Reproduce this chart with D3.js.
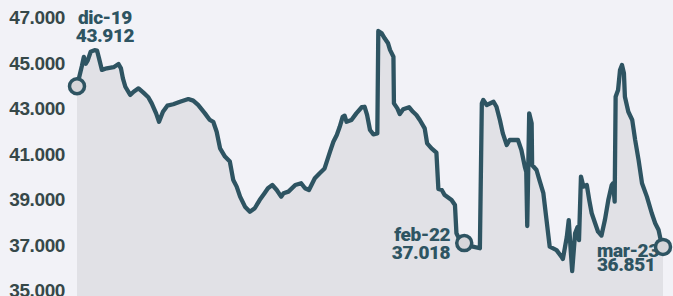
<!DOCTYPE html>
<html>
<head>
<meta charset="utf-8">
<script src="https://cdn.jsdelivr.net/npm/d3@7"></script>
<style>
    body { margin: 0; background: #f2f2f7; }
    svg { display: block; }
</style>
</head>
<body>
<div id="chart"></div>
<script>
// data
const dates = [
    "2019-12-01", "2019-12-11", "2019-12-15", "2019-12-19", "2019-12-23", "2019-12-29", "2020-01-06", "2020-01-11",
    "2020-01-15", "2020-01-21", "2020-01-31", "2020-02-14", "2020-02-24", "2020-02-29", "2020-03-04", "2020-03-09",
    "2020-03-19", "2020-03-26", "2020-04-05", "2020-04-15", "2020-04-25", "2020-05-02", "2020-05-11", "2020-05-17",
    "2020-05-25", "2020-06-03", "2020-06-15", "2020-06-29", "2020-07-16", "2020-07-26", "2020-08-05", "2020-08-19",
    "2020-08-29", "2020-09-05", "2020-09-12", "2020-09-19", "2020-09-29", "2020-10-09", "2020-10-16", "2020-10-23",
    "2020-10-30", "2020-11-09", "2020-11-19", "2020-11-29", "2020-12-09", "2020-12-19", "2020-12-26", "2021-01-04",
    "2021-01-13", "2021-01-22", "2021-01-27", "2021-02-06", "2021-02-20", "2021-03-04", "2021-03-12", "2021-03-20",
    "2021-04-01", "2021-04-11", "2021-04-21", "2021-05-02", "2021-05-09", "2021-05-16", "2021-05-22", "2021-05-28",
    "2021-06-01", "2021-06-05", "2021-06-15", "2021-06-25", "2021-07-06", "2021-07-12", "2021-07-17", "2021-07-23",
    "2021-07-30", "2021-08-07", "2021-08-09", "2021-08-16", "2021-08-22", "2021-08-29", "2021-09-02", "2021-09-09",
    "2021-09-10", "2021-09-17", "2021-09-22", "2021-09-29", "2021-10-11", "2021-10-19", "2021-10-26", "2021-11-02",
    "2021-11-12", "2021-11-17", "2021-11-26", "2021-12-06", "2021-12-10", "2021-12-17", "2021-12-23", "2022-01-06",
    "2022-01-13", "2022-01-16", "2022-01-23", "2022-02-01", "2022-02-19", "2022-03-05", "2022-03-09", "2022-03-12",
    "2022-03-19", "2022-04-02", "2022-04-08", "2022-04-15", "2022-04-21", "2022-04-29", "2022-05-05", "2022-05-22",
    "2022-05-29", "2022-06-05", "2022-06-08", "2022-06-10", "2022-06-14", "2022-06-19", "2022-06-20", "2022-06-29",
    "2022-07-05", "2022-07-13", "2022-07-19", "2022-07-26", "2022-08-09", "2022-08-19", "2022-08-22", "2022-08-30",
    "2022-09-03", "2022-09-07", "2022-09-10", "2022-09-16", "2022-09-21", "2022-09-24", "2022-09-28", "2022-10-03",
    "2022-10-10", "2022-10-15", "2022-10-20", "2022-10-27", "2022-11-02", "2022-11-09", "2022-11-16", "2022-11-23",
    "2022-11-30", "2022-12-03", "2022-12-06", "2022-12-08", "2022-12-13", "2022-12-17", "2022-12-21", "2022-12-25",
    "2022-12-27", "2023-01-03", "2023-01-11", "2023-01-17", "2023-01-24", "2023-01-31", "2023-02-10", "2023-02-20",
    "2023-02-27", "2023-03-06", "2023-03-11", "2023-03-15"
];

const values = [
    43912, 44800, 45200, 44900, 45050, 45430, 45500, 45480,
    45150, 44630, 44700, 44750, 44890, 44700, 44260, 43890,
    43530, 43670, 43820, 43630, 43430, 43160, 42720, 42350,
    42790, 43060, 43120, 43230, 43350, 43280, 43090, 42720,
    42430, 42350, 41910, 41180, 40820, 40600, 39790, 39500,
    39060, 38620, 38400, 38550, 38910, 39210, 39430, 39570,
    39350, 39060, 39210, 39280, 39570, 39650, 39430, 39350,
    39870, 40090, 40300, 41030, 41470, 41770, 42130, 42570,
    42620, 42350, 42430, 42720, 42990, 43010, 42650, 41990,
    41800, 41840, 46340, 46240, 46020, 45800, 45510, 45210,
    43160, 42940, 42690, 42900, 42990, 42790, 42650, 42430,
    42060, 41400, 41180, 40990, 39400, 39350, 39130, 38910,
    38690, 37450, 37150, 37018, 36860, 36790, 43160, 43310,
    43090, 43230, 43010, 42430, 41840, 41330, 41550, 41550,
    41110, 40380, 40140, 37770, 42720, 42280, 40450, 40230,
    39790, 39210, 38120, 36860, 36710, 36420, 36320, 37290,
    38030, 36710, 35790, 37450, 37720, 37150, 39940, 39500,
    39570, 38910, 38330, 37890, 37520, 37350, 38030, 38910,
    39570, 39650, 38840, 43450, 43750, 44630, 44850, 44480,
    43450, 42790, 42430, 41550, 40670, 39650, 39060, 38330,
    37890, 37590, 37080, 36851
];

const yTicks = [35000, 37000, 39000, 41000, 43000, 45000, 47000];

const calloutDates = ["2019-12-01", "2022-02-01", "2023-03-15"];
const calloutLabels = ["dic-19", "feb-22", "mar-23"];

const width = 673;
const height = 296;

const parseDate = d3.timeParse("%Y-%m-%d");
const data = dates.map((d, i) => ({date: parseDate(d), value: values[i]}));

// spanish number format 43.912
const locale = d3.formatLocale({decimal: ",", thousands: ".", grouping: [3], currency: ["", "€"]});
const fmt = locale.format(",d");

const svg = d3.select("#chart")
    .append("svg")
    .attr("width", width)
    .attr("height", height)
    .style("font-family", "Roboto, 'Open Sans', sans-serif");

svg.append("rect")
    .attr("width", width)
    .attr("height", height)
    .attr("fill", "#f2f2f7");

const x = d3.scaleTime()
    .domain(d3.extent(data, d => d.date))
    .range([77, 663]);

const y = d3.scaleLinear()
    .domain([35000, 47000])
    .range([289, 16]);

// area under the line
const area = d3.area()
    .x(d => x(d.date))
    .y0(height)
    .y1(d => y(d.value));

svg.append("path")
    .datum(data)
    .attr("d", area)
    .attr("fill", "#e1e1e6");

// y axis, labels only
const yAxis = svg.append("g")
    .attr("transform", "translate(65,1.5)")
    .call(d3.axisLeft(y).tickValues(yTicks).tickSize(0).tickPadding(0).tickFormat(fmt));

yAxis.select(".domain").remove();
yAxis.selectAll("text")
    .style("font-size", "19px")
    .style("font-weight", "900")
    .style("letter-spacing", "-0.4px")
    .attr("fill", "#364849");

// line
const line = d3.line()
    .x(d => x(d.date))
    .y(d => y(d.value));

svg.append("path")
    .datum(data)
    .attr("d", line)
    .attr("fill", "none")
    .attr("stroke", "#2e5462")
    .attr("stroke-width", 4.3)
    .attr("stroke-linejoin", "round")
    .attr("stroke-linecap", "round");

// callouts
const callouts = calloutDates.map((d, i) => ({...data[dates.indexOf(d)], label: calloutLabels[i]}));

// text placement for each callout (dx, baseline of first row, row gap, anchor)
const place = [
    {dx: 28, y1: 24, gap: 18, anchor: "middle"},
    {dx: -14, y1: 241, gap: 18, anchor: "end"},
    {dx: -66, y1: 257, gap: 14, anchor: "start"}
];

callouts.forEach((c, i) => {
    const p = place[i];
    const cx = x(c.date);
    const t = svg.append("text")
        .attr("text-anchor", p.anchor)
        .style("font-size", "19px")
        .style("font-weight", "900")
        .style("letter-spacing", "-0.4px")
        .attr("fill", "#2e5462");
    t.append("tspan").attr("x", cx + p.dx).attr("y", p.y1).text(c.label);
    t.append("tspan").attr("x", cx + p.dx).attr("y", p.y1 + p.gap).text(fmt(c.value));
});

svg.selectAll(".dot")
    .data(callouts)
    .enter()
    .append("circle")
    .attr("class", "dot")
    .attr("cx", d => x(d.date))
    .attr("cy", d => y(d.value))
    .attr("r", 7.5)
    .attr("fill", "#d6d6da")
    .attr("stroke", "#2e5462")
    .attr("stroke-width", 3.5);
</script>
</body>
</html>
